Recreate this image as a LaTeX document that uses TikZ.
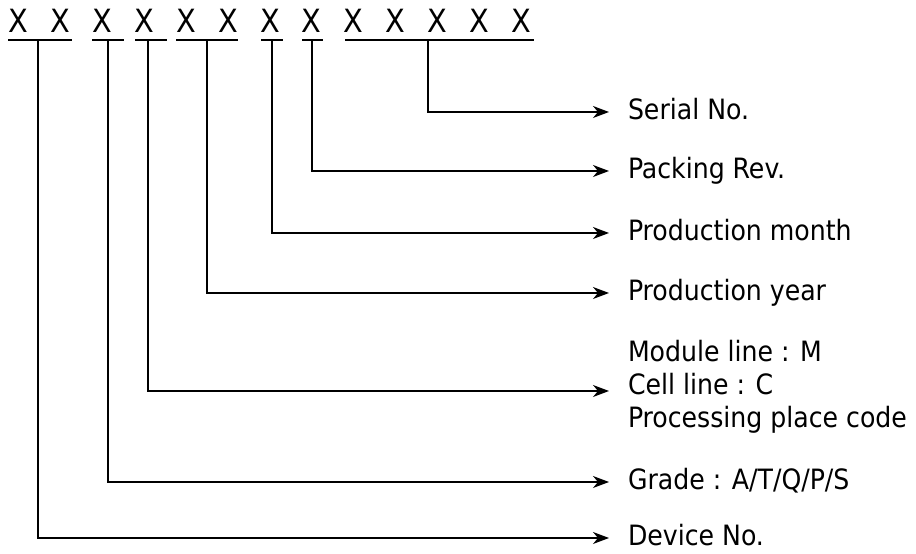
\documentclass[tikz,border=0pt]{standalone}
\usepackage{fontspec}
\setmainfont{DejaVu Sans Condensed}
\usetikzlibrary{arrows.meta}

\begin{document}
\begin{tikzpicture}[x=1pt,y=1pt]
\definecolor{drawColor}{RGB}{0,0,0}
\tikzset{
  digit/.style={text=drawColor,anchor=base,inner sep=0pt,outer sep=0pt,font=\fontsize{32}{36}\selectfont},
  field/.style={text=drawColor,anchor=base west,inner sep=0pt,outer sep=0pt,font=\fontsize{28}{33}\selectfont},
  bar/.style={draw=drawColor,line width=1.8pt},
  lead/.style={draw=drawColor,line width=1.4pt,line join=miter,-{Stealth[length=16pt,width=12pt,inset=5pt]}}
}
\path[use as bounding box,fill=white] (0,0) rectangle (916,554);

% code characters
\foreach \i in {1,...,13}
  \node[digit] (x\i) at ({18.5+41.9*(\i-1)},521) {X};

% underlines of the fields
\path[bar] (  8,514) -- ( 72,514);
\path[bar] ( 92,514) -- (124,514);
\path[bar] (135,514) -- (167,514);
\path[bar] (176,514) -- (238,514);
\path[bar] (261,514) -- (283,514);
\path[bar] (302,514) -- (323,514);
\path[bar] (345,514) -- (534,514);

% start of each lead
\coordinate (u1) at ( 38,514);
\coordinate (u2) at (108,514);
\coordinate (u3) at (148,514);
\coordinate (u4) at (207,514);
\coordinate (u5) at (272,514);
\coordinate (u6) at (312,514);
\coordinate (u7) at (428,514);

% arrow tips
\coordinate (t1) at (609, 16);
\coordinate (t2) at (609, 72);
\coordinate (t3) at (609,163);
\coordinate (t4) at (609,261);
\coordinate (t5) at (609,321);
\coordinate (t6) at (609,383);
\coordinate (t7) at (609,442);

% labels
\node[field] (device) at (628,  8) {Device No.};
\node[field] (grade)  at (628, 64) {Grade : A/T/Q/P/S};
\node[field] (module) at (628,192) {Module line : M};
\node[field] (cell)   at (628,159) {Cell line : C};
\node[field] (place)  at (628,126) {Processing place code};
\node[field] (year)   at (628,253) {Production year};
\node[field] (month)  at (628,313) {Production month};
\node[field] (pack)   at (628,375) {Packing Rev.};
\node[field] (serial) at (628,434) {Serial No.};

% leads
\path[lead] (u1) |- (t1);
\path[lead] (u2) |- (t2);
\path[lead] (u3) |- (t3);
\path[lead] (u4) |- (t4);
\path[lead] (u5) |- (t5);
\path[lead] (u6) |- (t6);
\path[lead] (u7) |- (t7);
\end{tikzpicture}
\end{document}
